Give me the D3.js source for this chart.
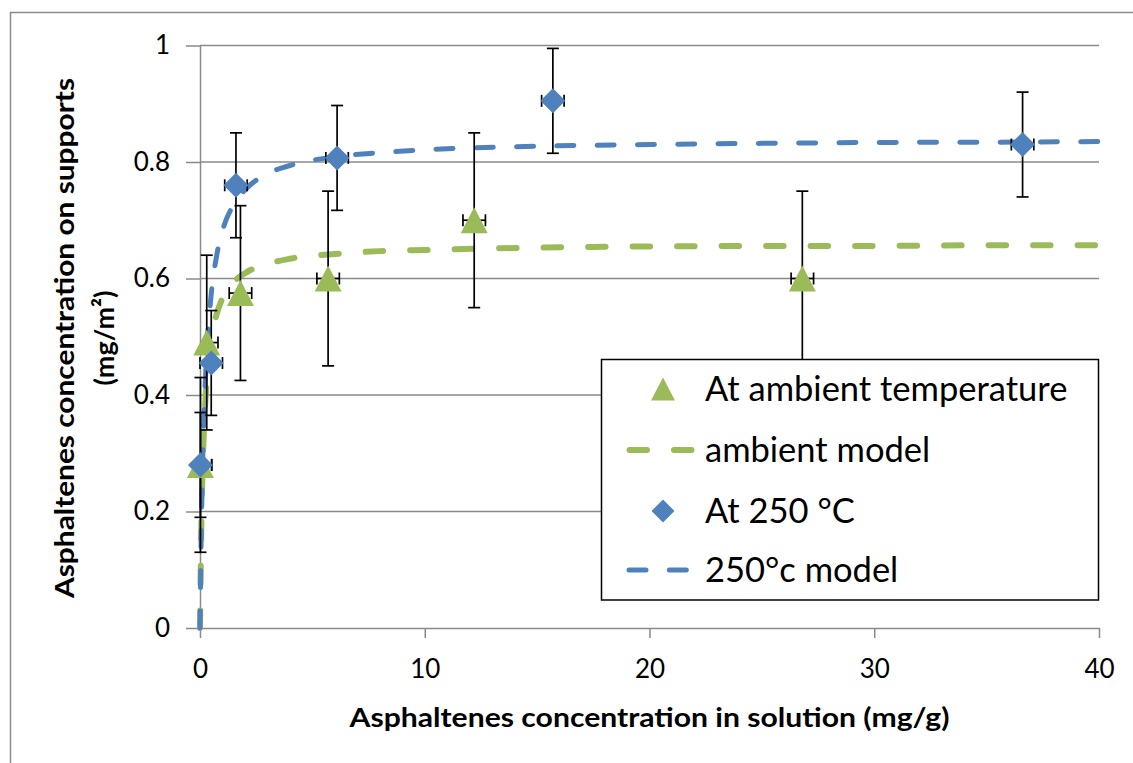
<!DOCTYPE html>
<html>
<head>
<meta charset="utf-8">
<script src="https://cdn.jsdelivr.net/npm/d3@7"></script>
<style>
body { margin: 0; background: #fff; }
text { font-family: Lato, "Open Sans", sans-serif; }
</style>
</head>
<body>
<script>
// measured points
let ambientX = [0.02, 0.3, 1.8, 5.7, 12.2, 26.8];
let ambientY = [0.28, 0.49, 0.575, 0.60, 0.70, 0.60];
let ambientErrY = 0.15;
let hotX = [0.02, 0.5, 1.6, 6.1, 15.7, 36.6];
let hotY = [0.28, 0.455, 0.76, 0.807, 0.905, 0.83];
let hotErrY = 0.09;
let errX = 0.5;

// model curves
let modelX = [0, 0.05, 0.1, 0.2, 0.3, 0.5, 0.75, 1, 1.5, 2, 3, 4, 6, 8, 10, 15, 20, 25, 30, 35, 40];
let ambientModel = [0, 0.152, 0.25, 0.36, 0.424, 0.495, 0.54, 0.566, 0.594, 0.609, 0.625, 0.634, 0.642, 0.647, 0.649, 0.653, 0.655, 0.656, 0.656, 0.657, 0.657];
let hotModel = [0, 0.149, 0.253, 0.388, 0.473, 0.573, 0.641, 0.682, 0.727, 0.752, 0.78, 0.794, 0.809, 0.816, 0.821, 0.827, 0.83, 0.832, 0.8335, 0.834, 0.835];

let xTicks = [0, 10, 20, 30, 40];
let yTicks = [0, 0.2, 0.4, 0.6, 0.8, 1];
let legendNames = ["At ambient temperature", "ambient model", "At 250 °C", "250°c model"];

let w = 1133, h = 763;
let green = "#9bbb59", blue = "#4f81bd", grid = "#8a8a8a";

let svg = d3.select("body").append("svg")
  .attr("width", w)
  .attr("height", h);

// outer chart frame
svg.append("rect")
  .attr("x", 10.5).attr("y", 12.5)
  .attr("width", 1200).attr("height", 800)
  .attr("fill", "none")
  .attr("stroke", "#8c8c8c")
  .attr("stroke-width", 1.5);

let xScale = d3.scaleLinear().domain([0, 40]).range([200, 1099]);
let yScale = d3.scaleLinear().domain([0, 1]).range([628, 45.5]);

// gridlines
svg.append("g").selectAll("line")
  .data(yTicks.slice(1))
  .enter().append("line")
  .attr("x1", xScale(0)).attr("x2", xScale(40))
  .attr("y1", d => yScale(d)).attr("y2", d => yScale(d))
  .attr("stroke", grid)
  .attr("stroke-width", 1.5);

let xAxis = d3.axisBottom(xScale).tickValues(xTicks).tickSize(10).tickPadding(22).tickSizeOuter(0);
let yAxis = d3.axisLeft(yScale).tickValues(yTicks).tickSize(14).tickPadding(16).tickSizeOuter(0)
  .tickFormat(d => d === 0 ? "0" : d === 1 ? "1" : d3.format(".1f")(d));

let gx = svg.append("g")
  .attr("transform", "translate(0," + yScale(0) + ")")
  .call(xAxis);
let gy = svg.append("g")
  .attr("transform", "translate(" + xScale(0) + ",0)")
  .call(yAxis);

[gx, gy].forEach(g => {
  g.select(".domain").attr("stroke", grid).attr("stroke-width", 1.5);
  g.selectAll(".tick line").attr("stroke", grid).attr("stroke-width", 1.5);
  g.selectAll(".tick text").attr("fill", "#000").style("font-size", "26px").style("font-family", "Lato, sans-serif");
});

// model lines
let line = d3.line().curve(d3.curveMonotoneX)
  .x(d => xScale(d[0])).y(d => yScale(d[1]));

let plot = svg.append("g");
plot.append("path")
  .attr("d", line(modelX.map((x, i) => [x, ambientModel[i]])))
  .attr("fill", "none").attr("stroke", green)
  .attr("stroke-width", 6).attr("stroke-linecap", "round")
  .attr("stroke-dasharray", "17.5,27");

plot.append("path")
  .attr("d", line(modelX.map((x, i) => [x, hotModel[i]])))
  .attr("fill", "none").attr("stroke", blue)
  .attr("stroke-width", 5).attr("stroke-linecap", "round")
  .attr("stroke-dasharray", "17,23.3");

// error bars
function errorBars(xs, ys, ey) {
  let g = plot.append("g").attr("stroke", "#000").attr("stroke-width", 1.7);
  xs.forEach((x, i) => {
    let cx = xScale(x), top = yScale(ys[i] + ey), bot = yScale(ys[i] - ey);
    g.append("line").attr("x1", cx).attr("x2", cx).attr("y1", top).attr("y2", bot);
    g.append("line").attr("x1", cx - 6).attr("x2", cx + 6).attr("y1", top).attr("y2", top);
    g.append("line").attr("x1", cx - 6).attr("x2", cx + 6).attr("y1", bot).attr("y2", bot);
    let cy = yScale(ys[i]);
    let lx = xScale(Math.max(0, x - errX)), rx = xScale(x + errX);
    g.append("line").attr("x1", lx).attr("x2", rx).attr("y1", cy).attr("y2", cy);
    if (x - errX >= 0) g.append("line").attr("x1", lx).attr("x2", lx).attr("y1", cy - 6).attr("y2", cy + 6);
    g.append("line").attr("x1", rx).attr("x2", rx).attr("y1", cy - 6).attr("y2", cy + 6);
  });
}
errorBars(ambientX, ambientY, ambientErrY);
errorBars(hotX, hotY, hotErrY);

// markers: triangle 27 wide x 26 tall, diamond ~25
let tri = "M0,-13L13.5,13L-13.5,13Z";
let dia = "M0,-12.5L12.5,0L0,12.5L-12.5,0Z";

plot.append("g").selectAll("path")
  .data(ambientX.map((x, i) => [x, ambientY[i]]))
  .enter().append("path")
  .attr("d", tri)
  .attr("transform", d => "translate(" + xScale(d[0]) + "," + yScale(d[1]) + ")")
  .attr("fill", green);

plot.append("g").selectAll("path")
  .data(hotX.map((x, i) => [x, hotY[i]]))
  .enter().append("path")
  .attr("d", dia)
  .attr("transform", d => "translate(" + xScale(d[0]) + "," + yScale(d[1]) + ")")
  .attr("fill", blue);

// legend
let lg = svg.append("g");
lg.append("rect")
  .attr("x", 601.5).attr("y", 359.5)
  .attr("width", 497).attr("height", 240.5)
  .attr("fill", "#fff").attr("stroke", "#000").attr("stroke-width", 1.5);

let rows = [389, 450, 511, 570];
lg.append("path").attr("d", "M0,-11.5L12,11.5L-12,11.5Z").attr("fill", green)
  .attr("transform", "translate(663," + rows[0] + ")");
lg.append("path").attr("d", "M0,-11.5L11.5,0L0,11.5L-11.5,0Z").attr("fill", blue)
  .attr("transform", "translate(663," + rows[2] + ")");
lg.append("line").attr("x1", 629.5).attr("x2", 694).attr("y1", rows[1]).attr("y2", rows[1])
  .attr("stroke", green).attr("stroke-width", 6).attr("stroke-linecap", "round")
  .attr("stroke-dasharray", "17.5,27");
lg.append("line").attr("x1", 629).attr("x2", 688).attr("y1", rows[3]).attr("y2", rows[3])
  .attr("stroke", blue).attr("stroke-width", 5).attr("stroke-linecap", "round")
  .attr("stroke-dasharray", "17,23.3");

lg.selectAll("text.leg")
  .data(legendNames)
  .enter().append("text")
  .attr("class", "leg")
  .attr("x", 705)
  .attr("y", (d, i) => rows[i])
  .attr("dy", "0.36em")
  .style("font-size", "34.5px")
  .text(d => d);

// axis titles
svg.append("text")
  .attr("x", xScale(20)).attr("y", 727)
  .attr("text-anchor", "middle")
  .attr("textLength", 600).attr("lengthAdjust", "spacingAndGlyphs")
  .style("font-size", "27px").style("font-weight", "bold")
  .text("Asphaltenes concentration in solution (mg/g)");

let yt = svg.append("text")
  .attr("transform", "translate(74,338) rotate(-90)")
  .attr("text-anchor", "middle")
  .style("font-size", "27px").style("font-weight", "bold");
yt.append("tspan").attr("x", 0).attr("y", 0)
  .attr("textLength", 520).attr("lengthAdjust", "spacingAndGlyphs")
  .text("Asphaltenes concentration on supports");
yt.append("tspan").attr("x", 0).attr("y", 40).text("(mg/m²)");
</script>
</body>
</html>
